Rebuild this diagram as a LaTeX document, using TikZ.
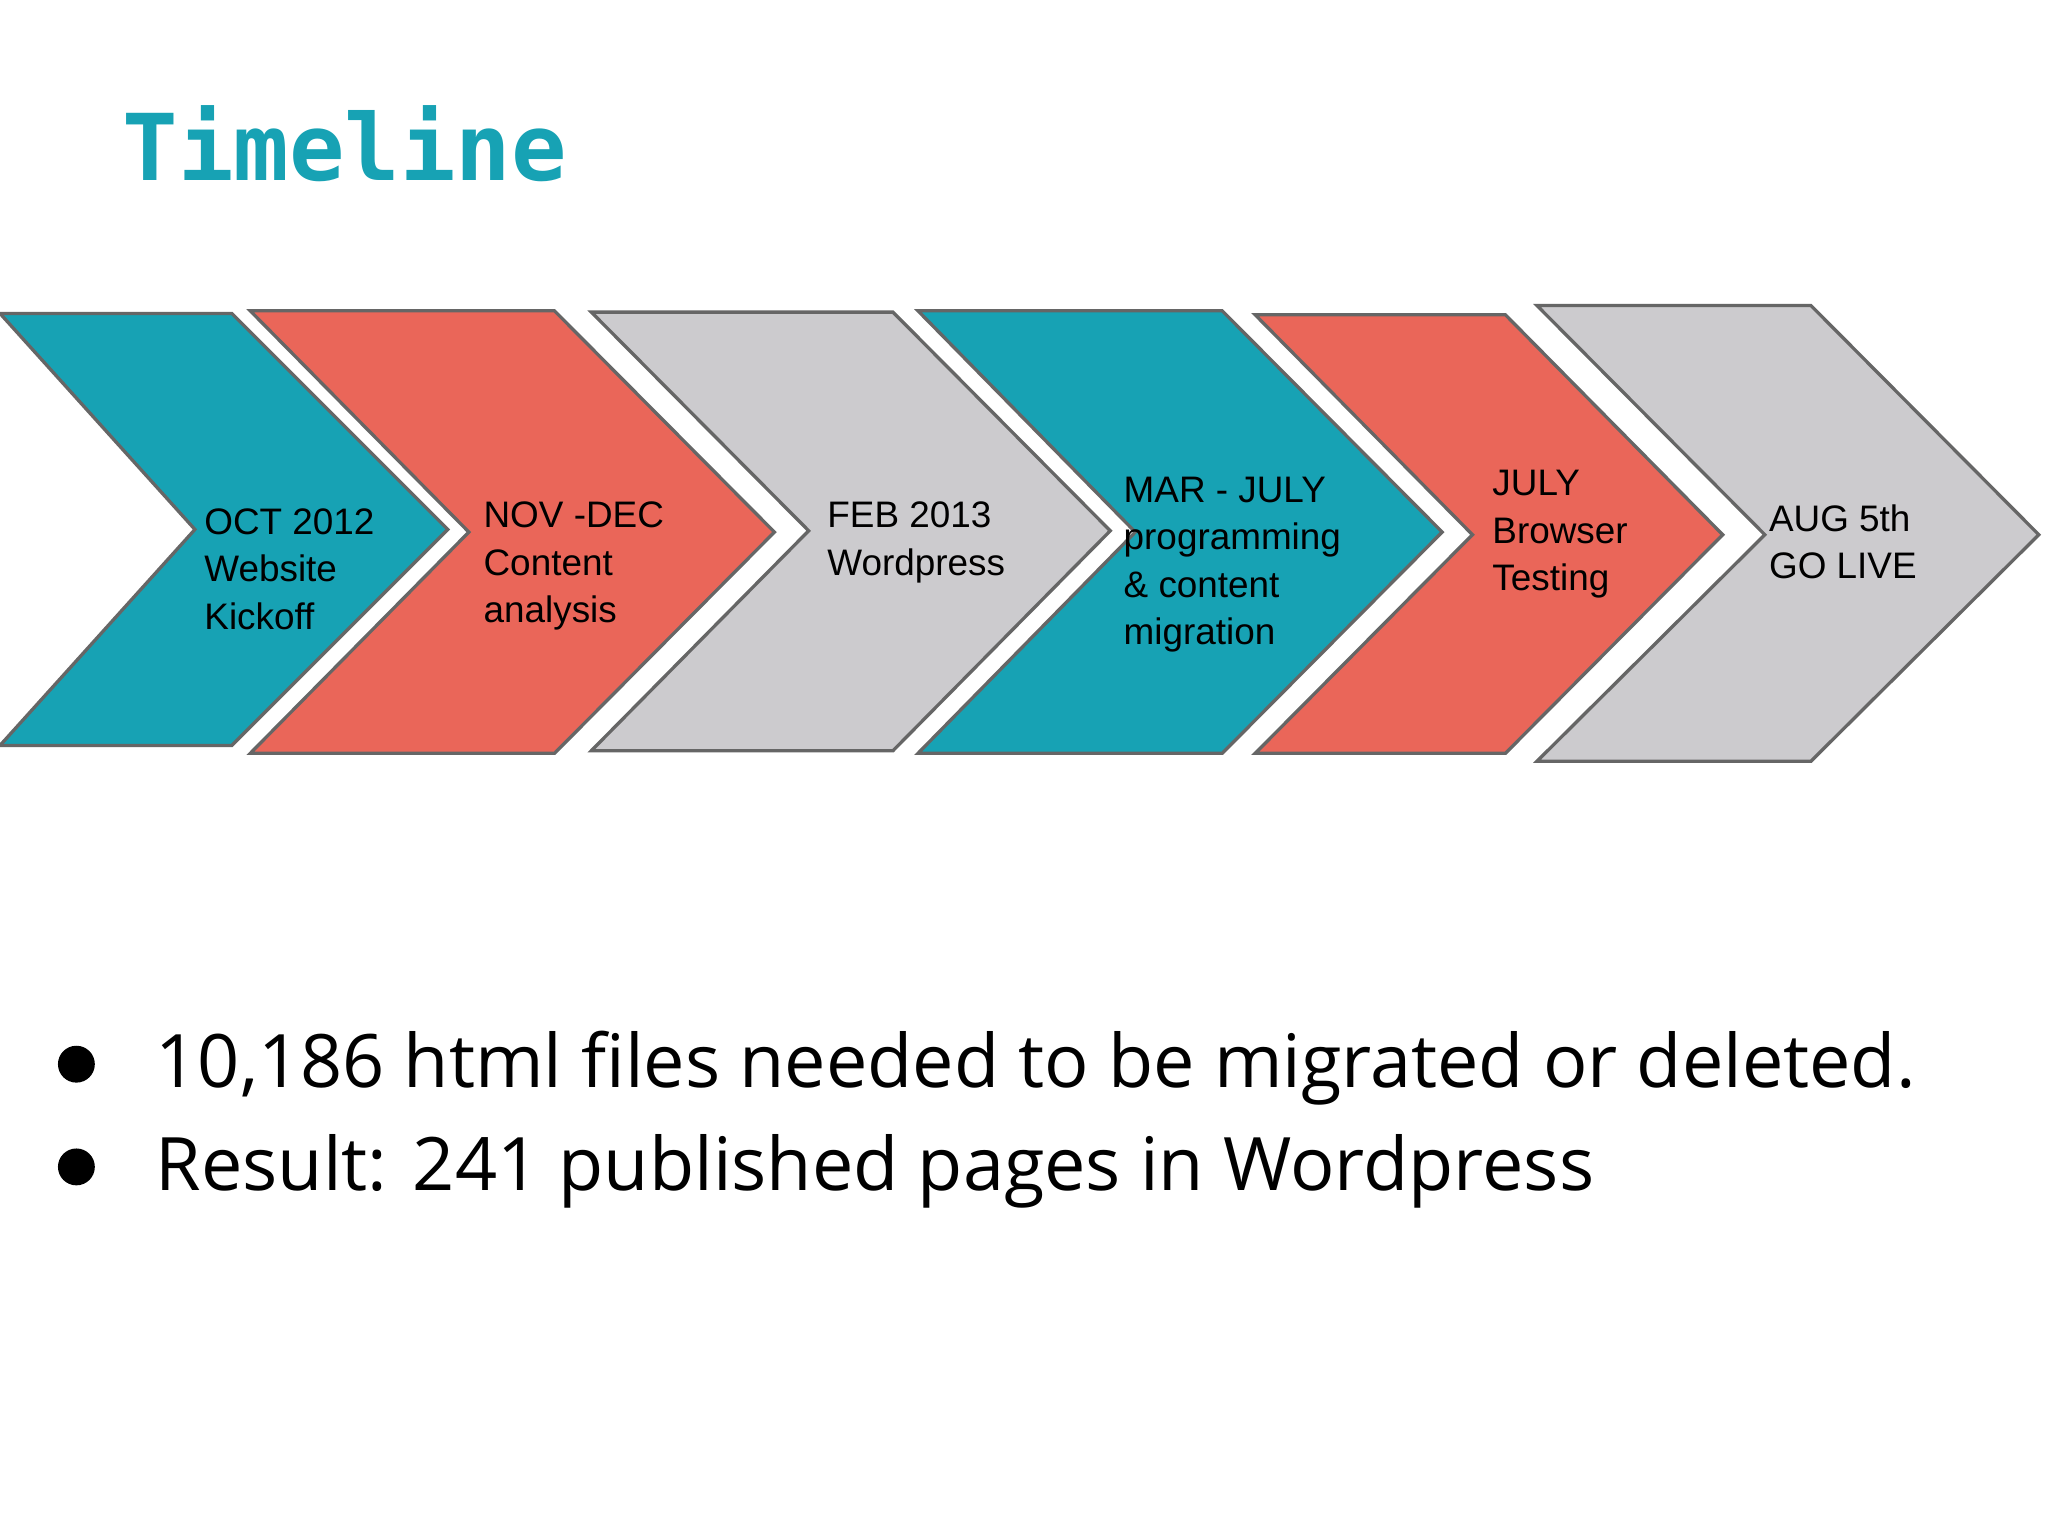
\documentclass[tikz,border=0pt]{standalone}
\usepackage{fontspec}
\setmainfont{Liberation Sans}
\newfontfamily\titlefont{DejaVu Sans Mono}
\newfontfamily\bodyfont{Open Sans}
\definecolor{tealc}{HTML}{17A2B4}
\definecolor{redc}{HTML}{EA6659}
\definecolor{grayc}{HTML}{CCCBCE}
\definecolor{edgec}{HTML}{666666}
\begin{document}
\begin{tikzpicture}[x=1pt,y=-1pt,
  chev/.style={draw=edgec,line width=2.5pt,line join=miter},
  lab/.style={anchor=north west,inner sep=0pt,align=left,font=\fontsize{28}{36}\selectfont},
  bul/.style={anchor=base west,inner sep=0pt,font=\bodyfont\fontsize{56}{70}\selectfont}]
\useasboundingbox[fill=white] (0,0) rectangle (1555,1166);
\node[anchor=base west,inner sep=0pt,text=tealc,font=\titlefont\bfseries\fontsize{70}{80}\selectfont] (title) at (93,137) {Timeline};
\fill[tealc] (0,238)--(176,238)--(340,402)--(176,566)--(0,566)--(148,402)--cycle;
\draw[chev] (0,238)--(176,238)--(340,402)--(176,566)--(0,566);
\draw[chev] (0,238)--(148,402)--(0,566);
\filldraw[chev,fill=redc] (190,236)--(421,236)--(588,404)--(421,572)--(190,572)--(356,404)--cycle;
\filldraw[chev,fill=grayc] (449,237)--(678,237)--(843,403)--(678,570)--(449,570)--(614,403)--cycle;
\filldraw[chev,fill=tealc] (697,236)--(928,236)--(1095,404)--(928,572)--(697,572)--(862,404)--cycle;
\filldraw[chev,fill=redc] (953,239)--(1143,239)--(1308,406)--(1143,572)--(953,572)--(1118,406)--cycle;
\filldraw[chev,fill=grayc] (1167,232)--(1375,232)--(1548,406)--(1375,578)--(1167,578)--(1340,406)--cycle;
\node[lab] (t1) at (155,386) {OCT 2012\\Website\\Kickoff};
\node[lab] (t2) at (367,381) {NOV -DEC\\Content\\analysis};
\node[lab] (t3) at (628,381) {FEB 2013\\Wordpress};
\node[lab] (t4) at (853,362) {MAR - JULY\\programming\\\& content\\migration};
\node[lab] (t5) at (1133,357) {JULY\\Browser\\Testing};
\node[lab] (t6) at (1343,383) {AUG 5th\\GO LIVE};
\fill (58,808) circle (14) coordinate (b1);
\fill (58,886) circle (14) coordinate (b2);
\node[bul] (l1) at (118,826) {10,186 html files needed to be migrated or deleted.};
\node[bul] (l2) at (118,904) {Result: 241 published pages in Wordpress};
\end{tikzpicture}
\end{document}
